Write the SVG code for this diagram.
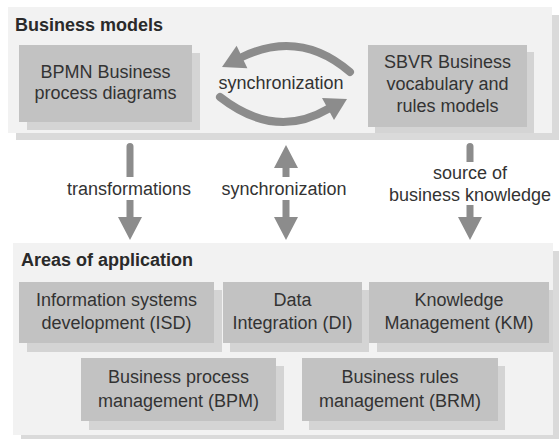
<svg xmlns="http://www.w3.org/2000/svg" width="559" height="439" viewBox="0 0 559 439">
<style>
  .pshadow { fill: #dadada; }
  .panel { fill: #f2f2f2; }
  .bshadow { fill: #d4d4d4; }
  .box { fill: #c2c2c2; }
  .t { font-family: "Liberation Sans", Arial, sans-serif; font-size: 18px; fill: #333333; text-anchor: middle; }
  .title { font-family: "Liberation Sans", Arial, sans-serif; font-size: 18px; font-weight: bold; fill: #2a2a2a; }
  .arr { fill: #8c8c8c; }
  .arc { fill: none; stroke: #8c8c8c; stroke-width: 8; stroke-linecap: round; }
</style>
<rect width="559" height="439" fill="#ffffff"/>

<g id="business-models">
  <rect class="pshadow" x="16" y="15" width="543" height="125"/>
  <rect class="panel" x="8" y="7" width="544" height="126"/>
  <text class="title" x="15" y="31">Business models</text>
</g>
<g id="bpmn">
  <rect class="bshadow" x="27" y="53" width="173" height="77"/>
  <rect class="box" x="19" y="45" width="173" height="77"/>
  <text class="t" x="105.5" y="78">BPMN Business</text>
  <text class="t" x="105.5" y="99">process diagrams</text>
</g>
<g id="sbvr">
  <rect class="bshadow" x="375" y="52" width="159" height="81"/>
  <rect class="box" x="368" y="45" width="159" height="82"/>
  <text class="t" x="447.5" y="68">SBVR Business</text>
  <text class="t" x="447.5" y="90">vocabulary and</text>
  <text class="t" x="447.5" y="112">rules models</text>
</g>

<g id="areas-of-application">
  <rect class="pshadow" x="21" y="251" width="538" height="188"/>
  <rect class="panel" x="13" y="243" width="540" height="192"/>
  <text class="title" x="21" y="266">Areas of application</text>
</g>
<g id="isd">
  <rect class="bshadow" x="27" y="290" width="195" height="62"/>
  <rect class="box" x="19" y="282" width="195" height="61"/>
  <text class="t" x="116.5" y="306">Information systems</text>
  <text class="t" x="116.5" y="329">development (ISD)</text>
</g>
<g id="di">
  <rect class="bshadow" x="230" y="290" width="139" height="62"/>
  <rect class="box" x="223" y="282" width="139" height="61"/>
  <text class="t" x="292.5" y="306">Data</text>
  <text class="t" x="292.5" y="329">Integration (DI)</text>
</g>
<g id="km">
  <rect class="bshadow" x="377" y="290" width="176" height="62"/>
  <rect class="box" x="369" y="282" width="180" height="61"/>
  <text class="t" x="459" y="306">Knowledge</text>
  <text class="t" x="459" y="329">Management (KM)</text>
</g>
<g id="bpm">
  <rect class="bshadow" x="89" y="366" width="195" height="64"/>
  <rect class="box" x="81" y="358" width="195" height="63"/>
  <text class="t" x="178.5" y="383">Business process</text>
  <text class="t" x="178.5" y="407">management (BPM)</text>
</g>
<g id="brm">
  <rect class="bshadow" x="309" y="366" width="196" height="64"/>
  <rect class="box" x="302" y="358" width="196" height="63"/>
  <text class="t" x="400" y="383">Business rules</text>
  <text class="t" x="400" y="407">management (BRM)</text>
</g>

<g id="connectors">
  <!-- circular synchronization arrows -->
  <path class="arc" d="M350,72 Q300,29 242,57"/>
  <polygon class="arr" points="222,67 236.6,45.7 247.4,68.3"/>
  <path class="arc" d="M220,97 Q275,140 328,109"/>
  <polygon class="arr" points="347,99 322,98 334,120"/>

  <!-- transformations -->
  <path class="arr" d="M126.5,177 V146.5 A3.5,3.5 0 0 1 133.5,146.5 V177 Z"/>
  <path class="arr" d="M126.5,200 H133.5 V217 H142 L130,240 L118,217 H126.5 Z"/>

  <!-- synchronization vertical -->
  <path class="arr" d="M282.5,177 V168 H274 L286,145 L298,168 H289.5 V177 Z"/>
  <path class="arr" d="M282.5,200 H289.5 V217 H298 L286,240 L274,217 H282.5 Z"/>

  <!-- source of business knowledge -->
  <path class="arr" d="M466.5,162 V146.5 A3.5,3.5 0 0 1 473.5,146.5 V162 Z"/>
  <path class="arr" d="M466.5,205 H473.5 V217 H482 L470,240 L458,217 H466.5 Z"/>

  <text class="t" x="281" y="89">synchronization</text>
  <text class="t" x="129" y="195">transformations</text>
  <text class="t" x="284" y="195">synchronization</text>
  <text class="t" x="470" y="179">source of</text>
  <text class="t" x="470" y="201">business knowledge</text>
</g>
</svg>
